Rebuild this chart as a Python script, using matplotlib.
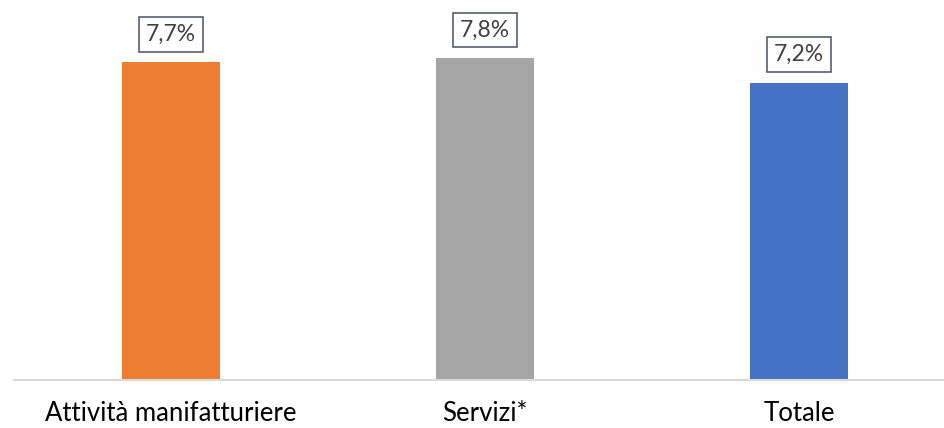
import matplotlib
matplotlib.use("Agg")
import matplotlib.pyplot as plt

categories = ["Attività manifatturiere", "Servizi*", "Totale"]
values = [7.7, 7.8, 7.2]
colors = ["#ED7D31", "#A5A5A5", "#4472C4"]
value_labels = ["7,7%", "7,8%", "7,2%"]

plt.rcParams["font.family"] = ["Lato", "DejaVu Sans"]

W, H = 945, 428
fig = plt.figure(figsize=(W / 100, H / 100), dpi=100)
ax = fig.add_axes([14 / W, 48 / H, (945 - 14) / W, 380 / H])

x = list(range(len(categories)))
ax.bar(x, values, width=0.315, color=colors, zorder=2)
ax.set_xlim(-0.5, -0.5 + 931 / 314)
ax.set_ylim(0, 9.2)

for xi, v, lab in zip(x, values, value_labels):
    ax.annotate(lab, (xi, v), xytext=(0, 20), textcoords="offset points",
                ha="center", va="center", fontsize=16.5, color="#404040",
                bbox=dict(boxstyle="square,pad=0.3", fc="white", ec="#44546A", lw=1.1))

ax.set_yticks([])
ax.set_xticks(x)
ax.set_xticklabels(categories, fontsize=18.5, color="#000000")
ax.tick_params(axis="x", length=0, pad=15)
for s in ["top", "right", "left"]:
    ax.spines[s].set_visible(False)
ax.spines["bottom"].set_color("#D9D9D9")
ax.spines["bottom"].set_linewidth(1.5)

fig.savefig("out.png", dpi=100)
